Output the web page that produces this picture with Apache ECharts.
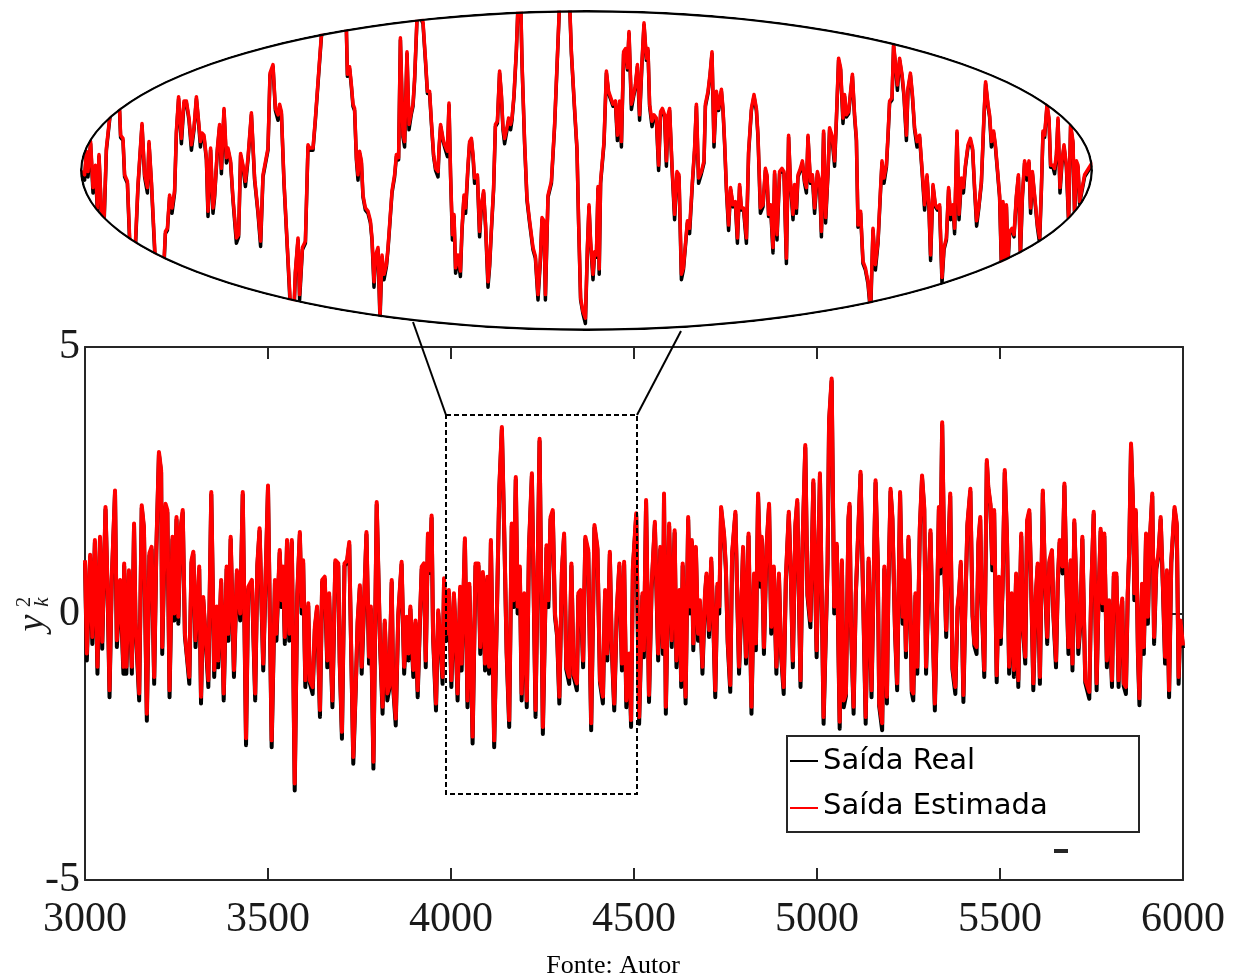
<!DOCTYPE html>
<html><head><meta charset="utf-8">
<script src="https://cdn.jsdelivr.net/npm/echarts@6/dist/echarts.min.js"></script>
<style>
html,body{margin:0;padding:0;background:#fff;}
#main{position:absolute;left:0;top:0;width:1233px;height:980px;}
#inset{position:absolute;left:80px;top:10px;width:1013px;height:321px;clip-path:ellipse(50% 50% at 50% 50%);pointer-events:none;}
</style></head><body>
<div id="main"></div><div id="inset"></div>
<script>
// ---- main plot data (sample index k, outputs) ----
const xs = [
3000,3005,3014,3020,3027,3034,3041,3047,3056,3062,
3067,3073,3082,3087,3096,3105,3107,3113,3120,3128,
3134,3138,3148,3155,3161,3169,3176,3182,3189,3195,
3202,3208,3211,3220,3225,3231,3239,3244,3250,3255,
3261,3267,3273,3280,3285,3291,3296,3302,3312,3317,
3323,3328,3337,3345,3353,3360,3364,3372,3379,3387,
3392,3398,3407,3415,3424,3431,3440,3446,3456,3465,
3471,3477,3487,3500,3510,3519,3523,3532,3537,3541,
3546,3552,3558,3565,3573,3580,3587,3592,3596,3602,
3610,3614,3622,3628,3634,3642,3648,3655,3662,3667,
3676,3684,3692,3696,3702,3709,3716,3722,3727,3733,
3740,3745,3751,3756,3762,3769,3776,3781,3788,3797,
3806,3813,3819,3826,3831,3838,3842,3849,3856,3865,
3872,3879,3884,3889,3897,3903,3909,3915,3920,3926,
3931,3937,3942,3947,3951,3959,3965,3971,3977,3981,
3988,3994,4001,4008,4011,4018,4025,4029,4038,4045,
4050,4055,4059,4067,4075,4080,4087,4093,4099,4104,
4109,4118,4126,4132,4139,4146,4152,4159,4166,4171,
4177,4182,4188,4193,4200,4207,4213,4221,4231,4242,
4251,4261,4266,4272,4278,4284,4290,4296,4303,4309,
4315,4323,4329,4335,4344,4348,4354,4361,4367,4375,
4383,4392,4400,4407,4415,4421,4427,4434,4439,4446,
4453,4460,4467,4473,4479,4487,4492,4497,4506,4514,
4523,4527,4533,4541,4548,4557,4566,4572,4579,4582,
4587,4596,4603,4611,4616,4624,4629,4633,4641,4648,
4653,4658,4662,4669,4675,4680,4687,4694,4698,4705,
4711,4716,4722,4728,4733,4738,4746,4751,4756,4763,
4768,4777,4782,4787,4794,4798,4806,4813,4821,4828,
4833,4839,4846,4849,4855,4862,4869,4875,4882,4889,
4896,4902,4909,4915,4923,4929,4934,4941,4946,4955,
4961,4968,4974,4982,4990,4999,5008,5018,5029,5033,
5040,5047,5054,5062,5068,5073,5079,5086,5089,5093,
5100,5106,5111,5119,5125,5133,5141,5149,5154,5160,
5166,5170,5178,5184,5191,5195,5201,5206,5213,5219,
5227,5234,5238,5243,5250,5255,5259,5263,5269,5274,
5281,5287,5293,5298,5304,5310,5315,5322,5327,5333,
5337,5342,5348,5353,5358,5364,5370,5378,5384,5388,
5393,5400,5406,5411,5419,5425,5430,5436,5441,5446,
5450,5457,5464,5468,5474,5479,5484,5491,5497,5502,
5507,5513,5519,5525,5532,5538,5544,5550,5558,5563,
5569,5574,5580,5585,5591,5598,5603,5609,5617,5623,
5629,5635,5642,5646,5653,5658,5663,5671,5676,5682,
5687,5693,5698,5703,5709,5714,5720,5725,5733,5744,
5749,5756,5764,5769,5775,5780,5785,5792,5798,5806,
5811,5818,5824,5829,5834,5838,5844,5849,5853,5858,
5864,5867,5871,5877,5881,5888,5893,5899,5904,5909,
5916,5921,5927,5933,5939,5945,5951,5956,5962,5968,
5977,5983,5988,5993,6000];

const estimated = [
1.0,-0.75,1.1,-0.44,1.38,-1.0,1.44,-0.53,2.0,0.38,
-1.44,0.63,2.31,-0.5,0.63,-1.0,0.94,-1.0,0.81,-1.0,
1.69,-0.13,-1.5,2.03,1.63,-1.88,1.13,1.25,-1.19,1.25,
3.03,2.69,-0.63,2.06,1.94,-1.44,1.44,0.0,1.81,-0.06,
1.6,1.94,-0.38,-0.88,-1.19,1.0,1.16,-0.5,0.88,-1.56,
0.31,-0.25,-1.25,2.28,-1.06,0.13,-0.88,0.63,-1.5,0.88,
-0.38,1.44,-1.06,0.81,0.0,2.28,-2.34,0.5,0.63,-1.5,
0.94,1.6,-0.94,2.4,-2.38,0.63,-0.38,1.19,0.25,0.88,
-0.44,1.38,-0.38,1.38,-3.19,0.38,1.53,0.13,1.0,-1.25,
0.19,-1.25,-1.38,-0.25,0.13,-1.81,0.63,0.69,-0.88,0.38,
-1.63,1.0,0.94,-0.88,-2.22,0.94,1.0,1.34,-0.56,-2.69,
-1.31,-0.13,0.53,-1.0,0.13,1.53,-0.81,0.13,-2.78,2.09,
-0.5,-1.75,-0.13,-1.5,-1.38,0.63,-1.34,-1.97,0,0.97,
-1.0,-0.06,-0.75,0.13,-1.06,-0.13,-1.44,-0.13,0.88,0.94,
-0.88,1.5,0.81,1.84,-0.38,-1.69,0.06,-0.5,-1.19,0.66,
-0.38,0.44,-1.25,0.38,-0.06,-1.5,0.5,-0.94,1.41,-1.63,
0.56,-0.88,-2.31,0.94,0.94,-0.63,0.78,-0.94,0.69,-1.0,
1.38,-2.38,0.25,2.38,3.5,1.38,-0.69,-2.0,1.69,0.25,
2.56,0.13,0.88,-1.5,0.38,-1.63,1.25,2.63,-1.81,3.28,
-2.13,1.28,0.25,1.81,1.94,0,-0.38,-1.56,0.81,1.5,
-1.0,-1.19,0.94,-1.13,-1.31,0.38,0.44,-0.88,1.44,1.19,
-2.06,1.66,1.25,-1.25,-1.56,0.44,-0.75,1.16,-0.56,-1.69,
0.06,0.94,-0.94,0.97,-1.63,-0.75,-2.0,0.88,1.88,-1.94,
0.38,-0.69,2.13,-1.53,0.5,1.72,-0.75,1.25,-0.63,2.25,
-1.75,1.69,-0.5,1.56,-0.88,0.44,-1.25,0.94,-1.56,1.81,
0.13,1.38,-0.56,1.25,-0.38,0.25,-1.0,0.38,0.75,-0.31,
1.03,0.06,-1.44,0.56,0.13,2.0,1.5,0.88,-0.5,-1.34,
1.13,1.91,0.38,-1.0,0.31,1.25,-0.81,1.5,-1.75,0.75,
-0.56,2.25,0.63,1.44,-0.63,1.25,2.06,-0.25,0.88,-1.0,
0.75,-0.75,-1.38,0.69,1.91,0.63,-0.88,1.69,2.13,-1.25,
1.44,3.16,0.38,-0.13,2.5,-0.69,2.63,-1.94,1.0,3.63,
4.41,0.13,1.31,-2.03,1.0,-1.63,-1.5,1.81,2.06,-0.25,
-1.75,0.38,1.25,2.66,0.69,-1.94,1.03,-1.44,0.38,2.5,
1.0,-1.69,-2.06,0.88,-1.56,0.5,2.34,1.81,-0.25,-1.31,
2.28,-0.06,1.0,-0.69,1.44,0.25,-1.44,-1.5,0.38,-1.0,
1.63,2.59,2.0,-1.0,0.38,1.56,0.06,-1.69,-0.25,2.0,
0.88,3.59,0.88,-0.31,1.0,2.25,-1.0,-1.38,0.13,0.38,
0.97,-1.53,0.38,1.69,2.34,0,-0.56,-0.63,1.34,1.81,
0.25,-1.06,2.88,2.38,2.06,0.94,1.94,-1.16,0.69,-0.44,
0.5,2.69,1.47,-1.0,0.38,-1.06,0.75,-1.25,1.5,-0.25,
-0.81,1.75,1.94,0.63,-1.31,0.38,0.94,-1.19,2.31,0.63,
-0.44,1.0,1.19,0,-0.88,0.63,1.38,0.88,2.44,0.5,
-0.63,1.0,-0.94,1.75,0.38,-0.63,-0.13,1.44,-1.25,-1.47,
0.38,1.91,-1.31,0.25,1.59,0.19,1.5,-0.88,0.25,-1.25,
0.75,0.75,-1.25,0,0.28,-1.31,-1.38,0.38,1.19,3.19,
1.94,0.38,1.94,-0.75,-1.59,0.56,-0.63,1.5,-0.06,1.34,
2.25,-0.44,0.88,1.13,1.81,0.56,-0.81,0.81,-1.44,1.0,
2.0,1.69,-1.19,-0.13,-0.6];

const real = [
0.95,-0.88,1.05,-0.57,1.33,-1.13,1.39,-0.66,1.95,0.33,
-1.57,0.58,2.26,-0.63,0.58,-1.13,0.89,-1.13,0.76,-1.13,
1.64,-0.18,-1.63,1.98,1.58,-2.01,1.08,1.2,-1.32,1.2,
2.98,2.64,-0.76,2.01,1.89,-1.57,1.39,-0.13,1.76,-0.19,
1.55,1.89,-0.43,-0.93,-1.32,0.95,1.11,-0.63,0.83,-1.69,
0.26,-0.3,-1.38,2.23,-1.19,0.08,-1.01,0.58,-1.63,0.83,
-0.51,1.39,-1.19,0.76,-0.13,2.23,-2.47,0.45,0.58,-1.63,
0.89,1.55,-1.07,2.35,-2.51,0.58,-0.51,1.14,0.12,0.83,
-0.57,1.33,-0.51,1.33,-3.32,0.33,1.48,0.0,0.95,-1.38,
0.14,-1.3,-1.51,-0.3,0.08,-1.94,0.58,0.64,-1.01,0.33,
-1.76,0.95,0.89,-0.93,-2.35,0.89,0.95,1.29,-0.61,-2.82,
-1.36,-0.18,0.48,-1.13,0.08,1.48,-0.94,0.08,-2.91,2.04,
-0.55,-1.88,-0.18,-1.63,-1.43,0.58,-1.39,-2.1,-0.05,0.92,
-1.13,-0.11,-0.88,0.08,-1.19,-0.18,-1.57,-0.18,0.83,0.89,
-1.01,1.45,0.76,1.79,-0.43,-1.82,0.01,-0.55,-1.32,0.61,
-0.51,0.39,-1.38,0.33,-0.11,-1.63,0.45,-1.07,1.36,-1.76,
0.51,-0.93,-2.44,0.89,0.89,-0.76,0.73,-1.07,0.64,-1.13,
1.33,-2.51,0.2,2.33,3.45,1.33,-0.74,-2.13,1.64,0.12,
2.51,0.0,0.83,-1.63,0.33,-1.76,1.2,2.58,-1.94,3.23,
-2.26,1.23,0.12,1.76,1.89,-0.05,-0.43,-1.69,0.76,1.45,
-1.05,-1.32,0.89,-1.18,-1.44,0.33,0.39,-1.01,1.39,1.14,
-2.19,1.61,1.2,-1.3,-1.69,0.39,-0.88,1.11,-0.61,-1.82,
0.01,0.89,-1.07,0.92,-1.76,-0.8,-2.13,0.83,1.83,-2.07,
0.33,-0.82,2.08,-1.66,0.45,1.67,-0.88,1.2,-0.76,2.2,
-1.88,1.64,-0.63,1.51,-1.01,0.39,-1.38,0.89,-1.69,1.76,
0.0,1.33,-0.69,1.2,-0.51,0.2,-1.13,0.33,0.7,-0.44,
0.98,0.01,-1.57,0.51,0.0,1.95,1.45,0.83,-0.55,-1.47,
1.08,1.86,0.33,-1.13,0.26,1.2,-0.94,1.45,-1.88,0.7,
-0.69,2.2,0.5,1.39,-0.76,1.2,2.01,-0.38,0.83,-1.13,
0.7,-0.8,-1.51,0.64,1.86,0.58,-1.01,1.64,2.08,-1.38,
1.39,3.11,0.33,-0.26,2.45,-0.82,2.58,-2.07,0.95,3.58,
4.36,0.0,1.26,-2.16,0.95,-1.76,-1.55,1.76,2.01,-0.3,
-1.88,0.33,1.2,2.61,0.64,-2.07,0.98,-1.57,0.33,2.45,
0.95,-1.74,-2.19,0.83,-1.69,0.45,2.29,1.76,-0.3,-1.44,
2.23,-0.19,0.95,-0.82,1.39,0.2,-1.49,-1.63,0.33,-1.13,
1.58,2.54,1.95,-1.13,0.33,1.51,0.01,-1.82,-0.3,1.95,
0.75,3.54,0.83,-0.44,0.95,2.2,-1.05,-1.51,0.08,0.33,
0.92,-1.66,0.33,1.64,2.29,-0.05,-0.61,-0.76,1.29,1.76,
0.2,-1.19,2.83,2.33,2.01,0.81,1.89,-1.29,0.64,-0.57,
0.45,2.64,1.42,-1.13,0.33,-1.19,0.7,-1.38,1.45,-0.3,
-0.94,1.7,1.89,0.58,-1.44,0.33,0.89,-1.32,2.26,0.58,
-0.57,0.95,1.14,-0.05,-1.01,0.58,1.33,0.75,2.39,0.45,
-0.76,0.95,-1.07,1.7,0.33,-0.76,-0.18,1.39,-1.3,-1.6,
0.33,1.86,-1.44,0.2,1.54,0.06,1.45,-1.01,0.2,-1.38,
0.7,0.7,-1.38,-0.05,0.23,-1.36,-1.51,0.33,1.14,3.14,
1.89,0.25,1.89,-0.8,-1.72,0.51,-0.76,1.45,-0.19,1.29,
2.2,-0.57,0.83,1.08,1.76,0.51,-0.94,0.76,-1.57,0.95,
1.95,1.64,-1.32,-0.18,-0.65];

// ---- zoomed inset data ----
const insetX = [
3999,4002.3,4003.2,4004,4005.3,4006.5,4007.7,4008.7,4009.5,4010.7,
4012,4013.2,4014.8,4017.3,4019.8,4020.3,4021.5,4022.3,4023.7,4025.3,
4027.3,4029,4031,4032.3,4033.7,4034.5,4035.7,4038.2,4041.5,4042.7,
4043.7,4044.8,4046,4047.3,4048.2,4049.3,4050.7,4052,4053.2,4054.5,
4055.7,4057,4058.2,4059.3,4060.2,4061,4062,4063.2,4064,4065.3,
4066.5,4067.3,4068.7,4069.8,4070.7,4072,4073.2,4074,4075.3,4076.5,
4078.2,4079.3,4080.3,4081.5,4082.7,4084,4085.7,4087.3,4089,4090.3,
4091.5,4092.8,4094,4095,4096.5,4097.7,4099,4099.8,4100.7,4102,
4103.7,4105.3,4107,4107.7,4109,4109.8,4111.2,4112.7,4114,4114.8,
4116.5,4117.7,4119,4120.7,4127,4133.2,4133.7,4134.8,4135.7,4136.5,
4137.3,4138.2,4139,4139.8,4140.7,4141.5,4142.7,4144,4145.2,4146,
4147,4147.8,4149,4150,4151,4152,4153.2,4154,4154.8,4156,
4157.3,4158.2,4159.3,4160.2,4161.5,4162.3,4163.5,4164.5,4165.7,4166.5,
4167.3,4168.5,4169.3,4170.7,4171.5,4172.7,4173.7,4174.8,4175.7,4176.8,
4177.8,4179,4179.5,4180.3,4181.5,4182.3,4183.7,4184.5,4185.3,4186.2,
4187,4187.8,4189,4190.2,4191,4192,4192.8,4194,4194.8,4195.7,
4196.5,4197.3,4198.7,4199.8,4200.7,4201.8,4202.8,4204,4204.8,4205.7,
4206.8,4207.7,4208.7,4209.8,4210.7,4211.5,4212.3,4213.5,4214.3,4215.3,
4216,4217,4218.2,4219.3,4220.3,4221,4222.3,4223.5,4224.8,4226.5,
4227.7,4229,4230.2,4231,4232,4232.7,4234,4235.7,4237.3,4239,
4240.7,4244,4245.7,4247.3,4248.5,4249.3,4250.3,4251.5,4252.7,4253.7,
4254.5,4255.3,4256.5,4257.3,4258.2,4259,4259.6,4260.3,4262,4263.2,
4264.3,4265.3,4266.5,4267.7,4268.7,4269.8,4270.7,4271.8,4272.8,4273.7,
4274.5,4275.7,4276.5,4277.7,4278.7,4279.8,4281,4282,4283.2,4284,
4284.8,4286,4287,4288.2,4289.3,4290.3,4291.2,4292.3,4293.2,4294,
4294.8,4296,4297.3,4298.5,4299.5,4300.7,4301.7,4302.7,4303.7,4304.8,
4306.2,4307.3,4308.2,4309.3,4310.7,4312,4312.7,4314,4315,4316,
4317,4318.2,4319.3,4320.7,4321.5,4322.3,4323.2,4324.3,4325.3,4326.5,
4327.7,4328.7,4329.8,4330.7,4331.8,4333.2,4334.3,4335.7,4337,4338.2,
4339,4340.2,4341.5,4342.7,4343.5,4344.3,4345.3,4346.5,4347.3,4348.5,
4349.8,4351,4352,4353.2,4354.3,4355.2,4356.5,4357.3,4358.2,4359,
4360.2,4361.2,4362.3,4363.2,4364,4365.2,4366.2,4367.3,4368.7,4369.8,
4370.7,4371.8,4372.8,4374,4374.8,4376,4377.3,4378.2,4379.3,4380.3,
4381.5,4382.3,4383.2,4384.3,4385.3,4386.2,4387.3,4388.2,4389,4390.3,
4391.5,4392.7,4394,4395.3,4396.5,4397.7,4399,4400.3,4401,4402,
4403.2,4404,4404.8,4406,4406.8,4407.8,4408.7,4409.8,4411,4412,
4413.2,4414,4415.2,4416.2,4417.3,4418.5,4419.8,4421,4422.3,4423.5,
4424.5,4425.3,4426.5,4427.7,4428.7,4429.8,4431,4432,4433.2,4434.3,
4435.3,4436.5,4437.3,4438.5,4439.5,4440.7,4441.7,4442.7,4444,4445.2,
4446.3,4447.3,4448.3,4449.3,4450.7,4452,4452.8,4454,4454.8,4455.7,
4456.8,4457.7,4458.7,4459.8,4460.7,4461.5,4462.3,4463.2,4464,4464.8,
4466,4467,4468.2,4469.2,4470.2,4471.2,4472.3,4473.5,4474.5,4475.3,
4476.2,4477.3,4478.7,4479.8,4480.7,4481.5,4482.3,4483.5,4484.5,4485.3,
4486.5,4487.3,4488.2,4489,4490,4491,4492,4493.2,4494.3,4495.3,
4496.5,4497.3,4498.2,4499,4499.8,4502.3,4507];

const insetEstimated = [
0.02,-0.04,0.18,-0.01,0.27,-0.16,0.05,-0.35,0.15,-0.38,
-0.47,0.21,0.49,0.9,0.57,0.33,0.30,-0.04,-0.10,-0.85,
-0.85,-0.13,0.44,-0.04,-0.16,0.27,-0.10,-1.04,-1.04,-0.57,
-0.54,-0.23,-0.35,-0.19,0.37,0.69,0.30,0.65,0.65,0.49,
0.24,0.40,0.69,0.46,0.27,0.35,0.33,0.12,-0.38,0.21,
-0.35,-0.23,0.21,0.43,0.02,0.58,0.12,0.21,0.09,-0.26,
-0.63,-0.60,0.16,0.05,-0.10,0.12,0.54,-0.07,-0.38,-0.66,
-0.04,0.09,0.21,0.91,0.99,0.58,0.52,0.62,0.55,-0.10,
-0.72,-1.29,-1.29,-0.94,-0.63,-1.16,-0.72,-0.66,0.24,0.21,
0.21,0.49,0.83,1.27,1.8,1.32,0.90,0.97,0.80,0.62,
0.58,0.12,-0.04,0.18,0.09,-0.23,-0.35,-0.38,-0.47,-0.63,
-1.04,-0.79,-0.72,-1.35,-0.79,-0.97,-0.88,-0.72,-0.51,-0.19,
-0.04,0.15,0.12,1.24,0.33,0.27,1.11,0.43,0.55,0.62,
0.86,1.43,1.58,1.43,1.39,1.05,0.74,0.74,0.46,0.15,
0.02,-0.01,0.21,0.43,0.30,0.24,0.18,0.63,-0.04,-0.60,
-0.41,-0.91,-0.79,-0.94,-0.54,-0.23,-0.35,0.05,0.27,0.30,
0.15,-0.07,-0.04,-0.57,-0.32,-0.19,-0.51,-1.04,-0.88,-0.54,
-0.16,0.43,0.46,0.93,0.71,0.40,0.30,0.40,0.49,0.43,
0.49,0.71,1.14,1.71,1.64,1.02,0.27,-0.26,-0.47,-0.72,
-0.80,-1.16,-0.82,-0.44,-0.47,-1.16,-0.23,-0.10,0.43,1.21,
1.99,1.99,1.11,0.58,0.21,-0.47,-1.19,-1.32,-1.38,-0.72,
-0.32,-0.66,-0.97,-0.76,-0.79,-0.15,-0.92,-0.10,0.27,0.93,
0.74,0.74,0.62,0.65,0.33,0.65,0.27,1.11,1.14,0.96,
1.30,0.62,0.68,0.80,0.99,0.52,1.02,1.38,1.05,1.14,
0.62,0.46,0.52,0.49,0.05,0.55,0.58,0.52,0.09,0.52,
0.58,0.05,-0.41,-0.01,-0.04,-0.97,-0.91,-0.91,-0.47,-0.54,
-0.10,0.21,0.62,-0.07,-0.01,0.09,0.62,0.74,0.90,1.11,
0.27,0.74,0.58,0.76,0.58,0.27,-0.16,-0.51,-0.16,-0.32,
-0.29,-0.63,-0.13,-0.35,-0.35,-0.63,0.18,0.58,0.71,0.58,
0.33,-0.35,-0.32,0.02,-0.04,-0.41,-0.32,-0.72,-0.01,-0.60,
-0.01,0.02,-0.01,-0.82,0.33,-0.10,-0.41,-0.13,-0.35,-0.04,
0.02,0.09,-0.10,-0.16,0.33,-0.10,-0.04,-0.35,-0.01,-0.10,
-0.57,0.37,-0.44,-0.01,0.40,0.33,0.09,0.49,1.05,0.96,
0.49,0.71,0.52,0.55,0.74,0.90,0.52,0.30,-0.51,-0.38,
-0.85,-0.91,-1.04,-1.29,-0.54,-0.88,-0.66,-0.16,0.09,-0.07,
0.05,0.33,0.65,0.68,1.18,0.99,0.80,1.05,0.90,0.71,
0.33,0.77,0.91,0.71,0.40,0.27,0.33,0.02,-0.32,-0.04,
-0.35,-0.79,-0.13,-0.32,-0.35,-0.32,-1.00,-0.72,-0.63,-0.16,
-0.41,-0.32,-0.54,0.37,-0.41,-0.07,-0.16,0.05,0.24,0.30,
0.21,-0.16,-0.47,-0.35,-0.10,0.52,0.83,0.62,0.52,0.27,
0.37,0.24,0.02,-0.23,-0.85,-0.29,-0.85,-0.32,-0.82,-0.57,
-0.54,-0.60,-0.23,-0.04,-0.76,-0.23,0.09,-0.04,0.09,-0.35,
-0.01,-0.23,-0.51,-0.63,-0.16,0.37,0.33,0.62,0.49,0.05,
0.05,0.02,0.15,0.49,-0.16,0.09,0.24,0.05,-0.44,0.43,
0.27,-0.38,0.09,0.05,-0.29,-0.04,0.1];

const insetReal = [
0.0,-0.09,0.16,-0.06,0.25,-0.21,0.03,-0.4,0.13,-0.4,
-0.52,0.19,0.47,0.88,0.55,0.31,0.28,-0.06,-0.12,-0.9,
-0.9,-0.15,0.42,-0.06,-0.21,0.25,-0.12,-1.09,-1.09,-0.59,
-0.56,-0.25,-0.4,-0.21,0.35,0.67,0.25,0.63,0.63,0.47,
0.19,0.38,0.67,0.44,0.22,0.33,0.31,0.1,-0.43,0.19,
-0.4,-0.25,0.19,0.41,-0.03,0.56,0.07,0.19,0.07,-0.28,
-0.68,-0.62,0.14,0.03,-0.15,0.1,0.52,-0.09,-0.4,-0.71,
-0.06,0.07,0.19,0.89,0.97,0.56,0.47,0.6,0.53,-0.12,
-0.74,-1.34,-1.31,-0.96,-0.65,-1.21,-0.74,-0.68,0.22,0.19,
0.19,0.47,0.81,1.25,1.78,1.3,0.88,0.95,0.78,0.6,
0.56,0.1,-0.09,0.16,0.07,-0.25,-0.37,-0.4,-0.49,-0.65,
-1.09,-0.81,-0.74,-1.4,-0.81,-1.02,-0.9,-0.74,-0.53,-0.21,
-0.06,0.13,0.1,1.22,0.31,0.22,1.09,0.38,0.53,0.6,
0.84,1.41,1.56,1.41,1.37,1.03,0.72,0.72,0.44,0.13,
0.0,-0.06,0.19,0.41,0.28,0.22,0.13,0.61,-0.06,-0.65,
-0.43,-0.96,-0.81,-0.99,-0.56,-0.25,-0.4,0.03,0.25,0.28,
0.13,-0.12,-0.06,-0.62,-0.34,-0.21,-0.53,-1.09,-0.9,-0.56,
-0.18,0.41,0.44,0.91,0.69,0.38,0.25,0.38,0.47,0.38,
0.47,0.69,1.12,1.69,1.62,1.0,0.25,-0.28,-0.49,-0.74,
-0.82,-1.21,-0.84,-0.46,-0.49,-1.21,-0.25,-0.12,0.41,1.19,
1.97,1.97,1.09,0.56,0.19,-0.49,-1.21,-1.34,-1.43,-0.74,
-0.34,-0.68,-1.02,-0.78,-0.81,-0.17,-0.97,-0.12,0.25,0.91,
0.72,0.72,0.6,0.63,0.28,0.63,0.22,1.09,1.12,0.94,
1.28,0.57,0.66,0.78,0.97,0.47,1.0,1.36,1.03,1.12,
0.6,0.41,0.5,0.47,0.0,0.53,0.56,0.5,0.04,0.5,
0.56,0.03,-0.46,-0.03,-0.06,-1.02,-0.93,-0.93,-0.49,-0.59,
-0.12,0.19,0.6,-0.12,-0.03,0.07,0.6,0.72,0.88,1.09,
0.22,0.72,0.56,0.74,0.56,0.25,-0.18,-0.56,-0.18,-0.34,
-0.31,-0.68,-0.15,-0.37,-0.37,-0.68,0.16,0.56,0.69,0.56,
0.31,-0.4,-0.34,0.0,-0.06,-0.43,-0.34,-0.77,-0.03,-0.65,
-0.03,0.0,-0.03,-0.87,0.31,-0.12,-0.46,-0.15,-0.4,-0.06,
0.0,0.07,-0.12,-0.21,0.31,-0.12,-0.06,-0.4,-0.03,-0.12,
-0.62,0.35,-0.49,-0.03,0.38,0.31,0.04,0.47,1.03,0.94,
0.44,0.69,0.5,0.53,0.72,0.88,0.5,0.28,-0.53,-0.4,
-0.87,-0.93,-1.06,-1.34,-0.56,-0.93,-0.68,-0.18,0.07,-0.12,
0.03,0.31,0.63,0.66,1.16,0.97,0.75,1.03,0.88,0.69,
0.28,0.75,0.89,0.69,0.38,0.22,0.31,0.0,-0.37,-0.06,
-0.37,-0.84,-0.15,-0.34,-0.37,-0.34,-1.05,-0.74,-0.65,-0.18,
-0.46,-0.34,-0.59,0.35,-0.46,-0.09,-0.21,0.03,0.22,0.28,
0.19,-0.18,-0.52,-0.37,-0.12,0.5,0.81,0.6,0.5,0.22,
0.35,0.22,0.0,-0.25,-0.9,-0.31,-0.9,-0.34,-0.87,-0.59,
-0.56,-0.62,-0.25,-0.06,-0.81,-0.25,0.07,-0.09,0.07,-0.4,
-0.03,-0.25,-0.53,-0.68,-0.18,0.35,0.31,0.6,0.47,0.03,
0.03,-0.03,0.13,0.47,-0.21,0.07,0.22,0.03,-0.49,0.41,
0.25,-0.43,0.07,0.03,-0.31,-0.06,0.08];

const seriesNames = ['Saída Real', 'Saída Estimada'];
const xTickRange = [3000, 6000, 500];
const yTickRange = [-5, 5, 5];
const caption = 'Fonte: Autor';

// ---------------------------------------------------------
const axisCol = '#262626';
const pair = (a, b) => a.map((x, i) => [x, b[i]]);
const plainNum = v => String(v);

function frameAxis(extra) {
  return Object.assign({
    type: 'value',
    axisLine: { show: true, onZero: false, lineStyle: { color: axisCol, width: 2 } },
    axisTick: { show: true, inside: true, length: 12, lineStyle: { color: axisCol, width: 2 } },
    splitLine: { show: false }
  }, extra);
}

const main = echarts.init(document.getElementById('main'), null, { renderer: 'canvas' });
main.setOption({
  animation: false,
  grid: { left: 85, top: 347, width: 1098, height: 533 },
  xAxis: [
    frameAxis({ min: xTickRange[0], max: xTickRange[1], interval: xTickRange[2],
      axisLabel: { formatter: plainNum, fontFamily: 'Liberation Serif', fontSize: 42, color: '#1a1a1a', margin: 19 } }),
    frameAxis({ position: 'top', min: xTickRange[0], max: xTickRange[1], interval: xTickRange[2],
      axisLabel: { show: false } })
  ],
  yAxis: [
    frameAxis({ min: yTickRange[0], max: yTickRange[1], interval: yTickRange[2],
      axisLabel: { formatter: plainNum, fontFamily: 'Liberation Serif', fontSize: 42, color: '#1a1a1a', margin: 5 } }),
    frameAxis({ position: 'right', min: yTickRange[0], max: yTickRange[1], interval: yTickRange[2],
      axisLabel: { show: false } })
  ],
  series: [
    { name: seriesNames[0], type: 'line', data: pair(xs, real), showSymbol: false,
      lineStyle: { color: '#000000', width: 4, join: 'round' }, itemStyle: { color: '#000' }, z: 2 },
    { name: seriesNames[1], type: 'line', data: pair(xs, estimated), showSymbol: false,
      lineStyle: { color: '#ff0000', width: 4, join: 'round' }, itemStyle: { color: '#f00' }, z: 3 }
  ],
  graphic: [
    // zoom window (dashed)
    { type: 'rect', z: 50, shape: { x: 446, y: 415, width: 191, height: 379 },
      style: { fill: null, stroke: '#000', lineWidth: 2, lineDash: [5, 3] } },
    // connectors
    { type: 'line', z: 50, shape: { x1: 446, y1: 415, x2: 413, y2: 322 }, style: { stroke: '#000', lineWidth: 2 } },
    { type: 'line', z: 50, shape: { x1: 637, y1: 415, x2: 681, y2: 331 }, style: { stroke: '#000', lineWidth: 2 } },
    // legend
    { type: 'rect', z: 60, shape: { x: 787, y: 736, width: 352, height: 96 },
      style: { fill: '#fff', stroke: axisCol, lineWidth: 2 } },
    { type: 'line', z: 61, shape: { x1: 790, y1: 761, x2: 818, y2: 761 }, style: { stroke: '#000', lineWidth: 2 } },
    { type: 'line', z: 61, shape: { x1: 790, y1: 808, x2: 818, y2: 808 }, style: { stroke: '#ff0000', lineWidth: 2 } },
    { type: 'text', z: 61, x: 823, y: 761, style: { text: seriesNames[0], fontFamily: 'DejaVu Sans', fontSize: 29, fill: '#000', verticalAlign: 'middle', align: 'left' } },
    { type: 'text', z: 61, x: 823, y: 806, style: { text: seriesNames[1], fontFamily: 'DejaVu Sans', fontSize: 29, fill: '#000', verticalAlign: 'middle', align: 'left' } },
    // small mark
    { type: 'rect', z: 61, shape: { x: 1054, y: 849, width: 14, height: 4 }, style: { fill: axisCol } },
    // y axis name  y_k^2
    { type: 'group', x: 33, y: 615, rotation: Math.PI / 2, z: 61, children: [
      { type: 'text', x: -8, y: 0, style: { text: 'y', fontFamily: 'Liberation Serif', fontStyle: 'italic', fontSize: 38, fill: '#1a1a1a', align: 'center', verticalAlign: 'middle' } },
      { type: 'text', x: 13, y: -9, style: { text: '2', fontFamily: 'Liberation Serif', fontSize: 21, fill: '#1a1a1a', align: 'center', verticalAlign: 'middle' } },
      { type: 'text', x: 13, y: 9, style: { text: 'k', fontFamily: 'Liberation Serif', fontStyle: 'italic', fontSize: 21, fill: '#1a1a1a', align: 'center', verticalAlign: 'middle' } }
    ] },
    // caption
    { type: 'text', z: 61, x: 613, y: 966, style: { text: caption, fontFamily: 'Liberation Serif', fontSize: 26, fill: '#000', align: 'center', verticalAlign: 'middle' } }
  ]
});

// ---- inset (magnified view, clipped to an ellipse) ----
const inset = echarts.init(document.getElementById('inset'), null, { renderer: 'canvas' });
inset.setOption({
  animation: false,
  grid: { left: 0, right: 0, top: 0, bottom: 0 },
  xAxis: { type: 'value', min: 4000, max: 4506.5, show: false },
  yAxis: { type: 'value', min: -1.5, max: 1.5, show: false },
  series: [
    { name: seriesNames[0], type: 'line', data: pair(insetX, insetReal), showSymbol: false,
      lineStyle: { color: '#000', width: 3.5, join: 'round' }, z: 2 },
    { name: seriesNames[1], type: 'line', data: pair(insetX, insetEstimated), showSymbol: false,
      lineStyle: { color: '#ff0000', width: 3.5, join: 'round' }, z: 3 }
  ],
  graphic: [
    { type: 'ellipse', z: 100, shape: { cx: 506.5, cy: 160.5, rx: 505.3, ry: 159.3 },
      style: { fill: null, stroke: '#000', lineWidth: 2.4 } }
  ]
});
</script>
</body></html>
